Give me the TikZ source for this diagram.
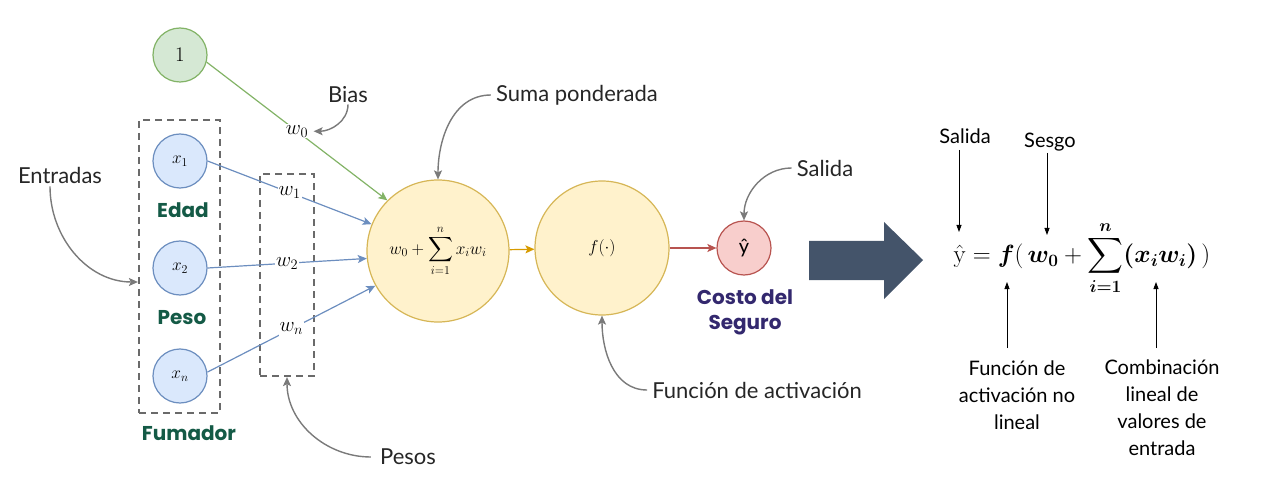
\documentclass[tikz,border=0pt]{standalone}
\usepackage{amsmath,bm}
\usepackage[no-math]{fontspec}
\setmainfont{Lato}
\newfontfamily\popb{Poppins}
\usetikzlibrary{arrows.meta}
\definecolor{gfill}{HTML}{D5E8D4}
\definecolor{gline}{HTML}{82B366}
\definecolor{bfill}{HTML}{DAE8FC}
\definecolor{bline}{HTML}{6C8EBF}
\definecolor{yfill}{HTML}{FFF2CC}
\definecolor{yline}{HTML}{D6B656}
\definecolor{oline}{HTML}{D79B00}
\definecolor{rfill}{HTML}{F8CECC}
\definecolor{rline}{HTML}{B85450}
\definecolor{dgreen}{HTML}{145A46}
\definecolor{dpurple}{HTML}{33286E}
\definecolor{agray}{HTML}{7A7A7A}
\definecolor{boxgray}{HTML}{6A6A6A}
\definecolor{slate}{HTML}{44546A}
\begin{document}
\begin{tikzpicture}[x=1pt,y=-1pt,
  circ/.style={circle, draw, line width=1.2pt, inner sep=0pt, font=\fontsize{18}{20}\selectfont},
  lab/.style={font=\fontsize{22}{26}\selectfont, text=black!85, inner sep=1pt},
  rlab/.style={font=\fontsize{20}{27}\selectfont, text=black, inner sep=1pt, align=center},
  glab/.style={font=\popb\bfseries\fontsize{20}{25}\selectfont, inner sep=1pt, align=center},
  garrow/.style={draw=agray, line width=1.4pt, -{Stealth[length=9pt,width=8pt,inset=2pt]}},
  conn/.style={line width=1.2pt, -{Stealth[length=9pt,width=8pt,inset=2pt]}},
  barrow/.style={draw=black, line width=0.8pt, -{Triangle[length=7pt,width=5pt]}},
  wlab/.style={fill=white, inner sep=1pt, font=\fontsize{20}{22}\selectfont},
  dbox/.style={draw=boxgray, dash pattern=on 7pt off 5pt, line width=2.2pt, inner sep=0pt}
]
\useasboundingbox (0,0) rectangle (1264,481);

% dashed boxes
\node[dbox, minimum width=81pt, minimum height=293pt] (inbox) at (179.5,266.5) {};
\node[dbox, minimum width=54pt, minimum height=202pt] (wbox) at (287,275) {};

% nodes
\node[circ, fill=gfill, draw=gline, minimum size=54pt, font=\fontsize{20}{22}\selectfont] (one) at (180,55) {$1$};
\node[circ, fill=bfill, draw=bline, minimum size=54pt] (x1) at (180,161) {$x_1$};
\node[circ, fill=bfill, draw=bline, minimum size=54pt] (x2) at (180,268) {$x_2$};
\node[circ, fill=bfill, draw=bline, minimum size=54pt] (xn) at (180,376) {$x_n$};
\node[circ, fill=yfill, draw=yline, minimum size=142pt] (sum) at (438,251) {$\displaystyle w_0+\sum_{i=1}^{n} x_i w_i$};
\node[circ, fill=yfill, draw=yline, minimum size=134pt] (f) at (602,248) {$f(\cdot)$};
\node[circ, fill=rfill, draw=rline, minimum size=54pt, font=\fontsize{20}{22}\selectfont] (yh) at (744,248) {ŷ};

% group labels
\node[glab, text=dgreen] (edad) at (183,210) {Edad};
\node[glab, text=dgreen] (peso) at (182,318) {Peso};
\node[glab, text=dgreen] (fum) at (189,433) {Fumador};
\node[glab, text=dpurple] (costo) at (745,312) {Costo del\\Seguro};

% connectors into sum
\draw[conn, draw=gline] (one.-15) -- node[wlab, pos=0.5] (w0) {$w_0$} (sum.135);
\draw[conn, draw=bline] (x1.east) -- node[wlab, pos=0.5] (w1) {$w_1$} (sum.158);
\draw[conn, draw=bline] (x2.east) -- node[wlab, pos=0.5] (w2) {$w_2$} (sum.186);
\draw[conn, draw=bline] (xn.8) -- node[wlab, pos=0.5] (wn) {$w_n$} (sum.209);
\draw[conn, draw=oline] (sum) -- (f);
\draw[conn, draw=rline] (f) -- (yh);

% annotation labels
\node[lab] (entr) at (60,175) {Entradas};
\node[lab] (bias) at (348,95) {Bias};
\node[lab] (suma) at (577,95) {Suma ponderada};
\node[lab] (sal) at (825,168) {Salida};
\node[lab] (func) at (757,390) {Función de activación};
\node[lab] (pesos) at (408,457) {Pesos};

\draw[garrow] ([xshift=-10pt,yshift=-2pt]entr.south) to[out=-90,in=180] ([yshift=-15.5pt]inbox.west);
\draw[garrow] (bias.south) to[out=-90,in=0] ([xshift=4pt]w0.east);
\draw[garrow] ([xshift=-4pt]suma.west) to[out=180,in=90] (sum.north);
\draw[garrow] ([xshift=-4pt]sal.west) to[out=180,in=90] (yh.north);
\draw[garrow] ([xshift=-4pt]func.west) to[out=180,in=-90] (f.south);
\draw[garrow] ([xshift=-8pt]pesos.west) to[out=180,in=-90] (wbox.south);

% big arrow
\fill[slate] (809,241) -- (884,241) -- (884,222) -- (923,260) -- (884,299) -- (884,280) -- (809,280) -- cycle;

% formula
\node[inner sep=0pt, font=\fontsize{24}{28}\selectfont] (form) at (1082,258)
  {$\displaystyle \hat{\mathrm{y}} = \bm{f}(\,\bm{w_0} + \sum_{\bm{i=1}}^{\bm{n}} \bm{(x_i w_i)}\,)$};

\node[rlab] (salR) at (965,136) {Salida};
\node[rlab] (sesgo) at (1050,142) {Sesgo};
\node[rlab] (fal) at (1017,395) {Función de\\activación no\\lineal};
\node[rlab] (comb) at (1162,408) {Combinación\\lineal de\\valores de\\entrada};

\coordinate (cy) at (959,232);
\coordinate (cw) at (1047,235);
\coordinate (cf) at (1007,282);
\coordinate (cx) at (1156,282);
\coordinate (sy) at (959,150);
\coordinate (sw) at (1047,153);
\coordinate (bf) at (1007,348);
\coordinate (bx) at (1156,348);
\draw[barrow] (sy) -- (cy);
\draw[barrow] (sw) -- (cw);
\draw[barrow] (bf) -- (cf);
\draw[barrow] (bx) -- (cx);
\end{tikzpicture}
\end{document}
